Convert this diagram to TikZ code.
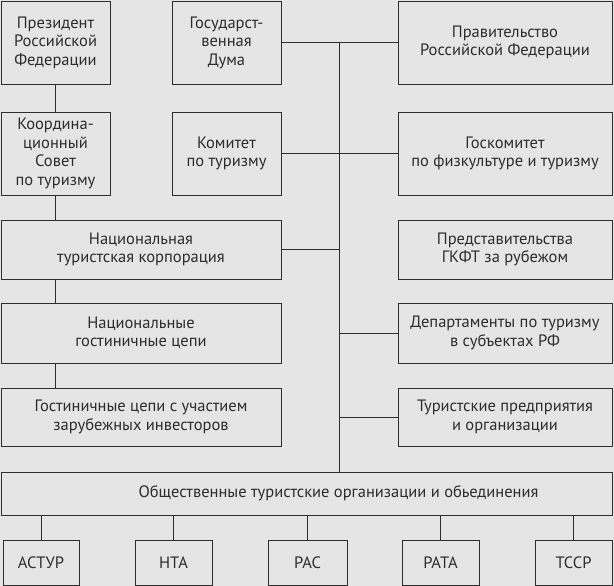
\documentclass[tikz,border=0pt]{standalone}
\usepackage{fontspec}
\setmainfont{PT Sans}
\definecolor{bgc}{RGB}{229, 229, 229}
\definecolor{ink}{RGB}{45, 45, 45}
\usepackage{tikz}
\usetikzlibrary{positioning}

\begin{document}
\begin{tikzpicture}[-, x=1pt, y=1pt, node distance=1cm, inner sep=0pt,
  box/.style={draw=ink, fill=bgc, line width=0.9pt, align=center, text=ink,
    font=\fontsize{16.5}{18.5}\selectfont, minimum width=109pt, minimum height=83pt},
  wide/.style={box, minimum width=214pt},
  long/.style={box, minimum width=280pt},
  small/.style={box, minimum width=77pt, minimum height=45pt}]

\useasboundingbox[fill=bgc] (0, 0) rectangle (614, -586);

  \node[box]  (PR)  at (55.5, -42.5)  {Президент\\Российской\\Федерации};
  \node[box]  (GD)  at (226.5, -42.5) {Государст-\\венная\\Дума};
  \node[wide] (PRF) at (505, -42.5)   {Правительство\\Российской Федерации};
  \node[box]  (KS)  [below of=PR, node distance=111pt]  {Координа-\\ционный\\Совет\\по туризму};
  \node[box]  (KT)  [below of=GD, node distance=111pt]  {Комитет\\по туризму};
  \node[wide] (GK)  [below of=PRF, node distance=111pt] {Госкомитет\\по физкультуре и туризму};

  \node[long, minimum height=59pt] (NTK) at (141, -249.5) {Национальная\\туристская корпорация};
  \node[wide, minimum height=59pt] (PGZ) at (505, -249.5) {Представительства\\ГКФТ за рубежом};
  \node[long, minimum height=60pt] (NGC) at (141, -333)   {Национальные\\гостиничные цепи};
  \node[wide, minimum height=60pt] (DEP) at (505, -333)   {Департаменты по туризму\\в субъектах РФ};
  \node[long, minimum height=58pt] (GCI) at (141, -417)   {Гостиничные цепи с участием\\зарубежных инвесторов};
  \node[wide, minimum height=58pt] (TPO) at (505, -417)   {Туристские предприятия\\и организации};

  \node[box, minimum width=611pt, minimum height=43pt] (OTO) at (306.5, -493.5)
    {\hspace*{64pt}Общественные туристские организации и обьединения};

  \node[small, minimum width=76pt] (AST)  at (41, -562.5)    {АСТУР};
  \node[small] (NTA)  at (173.5, -562.5) {НТА};
  \node[small, minimum width=79pt] (RAS)  at (307.5, -562.5) {РАС};
  \node[small] (RATA) at (440.5, -562.5) {РАТА};
  \node[small] (TSSR) at (573.5, -562.5) {ТССР};

  \coordinate (T) at (339, -42.5);

  \path[draw=ink, line width=0.8pt]
        (GD) edge (PRF)
        (KT) edge (GK)
        (T) edge (T |- OTO.north)
        (NTK.east) edge (NTK.east -| T)
        (DEP.west) edge (DEP.west -| T)
        (TPO.west) edge (TPO.west -| T)
        (PR) edge (KS)
        (KS.south) edge (KS.south |- NTK.north)
        (KS.south |- NTK.south) edge (KS.south |- NGC.north)
        (KS.south |- NGC.south) edge (KS.south |- GCI.north)
        (AST) edge (AST |- OTO.south)
        (NTA) edge (NTA |- OTO.south)
        (RAS) edge (RAS |- OTO.south)
        (RATA) edge (RATA |- OTO.south)
        (TSSR) edge (TSSR |- OTO.south)
        ;

\end{tikzpicture}
\end{document}
